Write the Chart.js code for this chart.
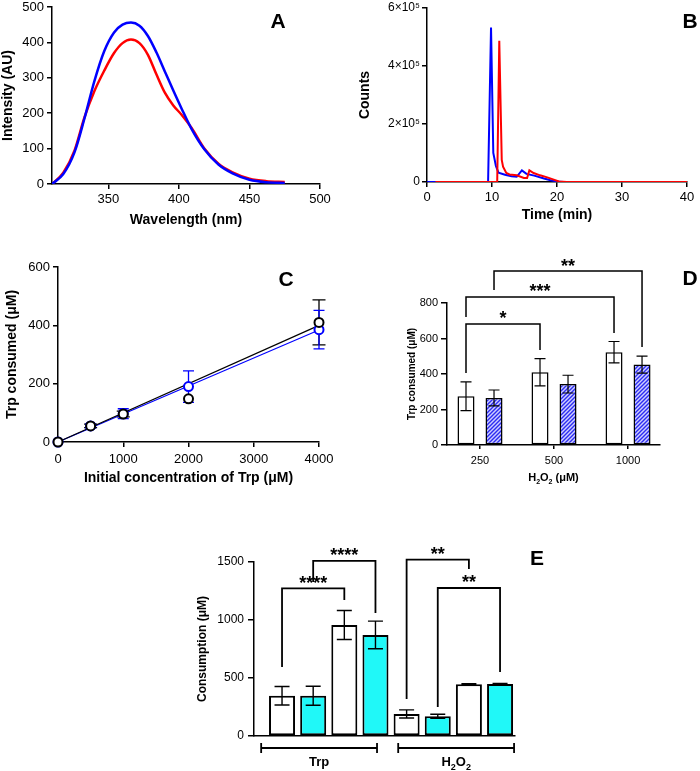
<!DOCTYPE html>
<html><head><meta charset="utf-8">
<script src="https://cdn.jsdelivr.net/npm/chart.js@4.4.1/dist/chart.umd.min.js"></script>
<style>
html,body{margin:0;padding:0;background:#fff;}
#wrap{position:relative;width:700px;height:771px;overflow:hidden;background:#fff;}
#wrap canvas{position:absolute;left:0;top:0;}
</style></head><body>
<div id="wrap">
<canvas id="cA" width="700" height="771"></canvas>
<canvas id="cB" width="700" height="771"></canvas>
<canvas id="cC" width="700" height="771"></canvas>
<canvas id="cD" width="700" height="771"></canvas>
<canvas id="cE" width="700" height="771"></canvas>
</div>
<script>
// ---------------- DATA ----------------
// Panel A: emission spectra
const aWavelength = [310,318,326,333,340,347,354,360,366,372,378,384,390,396,402,409,418,428,438,450,462,475];
const aBlue       = [0,28,90,185,290,375,428,450,456,447,418,372,318,264,212,155,98,55,30,12,5,3];
const aRed        = [0,32,95,188,262,320,370,398,408,398,365,310,258,222,195,158,100,57,33,15,8,6];
const aTicksX     = [350,400,450,500];

// Panel B: chromatograms
const bBlueTime   = [0,9.4,9.85,10.2,10.6,11.0,12.0,13.0,13.8,14.6,15.3,16.5,18.0,19.0,20.0,21.0,40];
const bBlueCounts = [0,0,533000,100000,55000,32000,25000,20000,18000,40000,28000,22000,12000,6000,1500,0,0];
const bRedTime    = [1.3,10.8,11.12,11.5,11.7,12.2,12.7,13.8,14.9,15.4,15.75,16.4,17.4,18.5,19.5,20.3,21.5,40];
const bRedCounts  = [0,0,487000,76000,53000,31000,26000,23000,14000,14000,40000,31000,23000,16000,8000,2000,0,0];

// Panel C: Trp consumed vs initial Trp
const cConc      = [0,500,1000,2000,4000];
const cBlack     = [0,55,96,148,410];
const cBlackErr  = [0,6,10,0,77];
const cBlue      = [0,55,97,190,385];
const cBlueErr   = [0,7,17,54,66];
const cFitConc   = [0,4000];
const cBlackFit  = [0,400];
const cBlueFit   = [0,384];

// Panel D: Trp consumed vs H2O2
const dCategories = ['250','500','1000'];
const dWhite      = [275,410,523];
const dWhiteErr   = [81,77,60];
const dHatched    = [265,343,453];
const dHatchedErr = [45,50,48];
const dBrackets = [
  {from:[0,0], to:[0,1], y:682, yFrom:406, yTo:535, text:'*'},
  {from:[0,0], to:[0,2], y:834, yFrom:721, yTo:631, text:'***'},
  {from:[1,0], to:[1,2], y:980, yFrom:873, yTo:552, text:'**'}
];

// Panel E: consumption
const eValues = [347,347,957,871,190,170,446,449];
const eErr    = [80,82,125,119,35,17,4,5];
const eGroups = ['Trp','H₂O₂'];
const eGroupSpan = [[-0.67,3.05],[3.73,7.45]];
const eBrackets = [
  {from:0, to:2, y:1273, yFrom:595,  yTo:1172, text:'****'},
  {from:1, to:3, y:1509, yFrom:1328, yTo:1060, text:'****'},
  {from:4, to:6, y:1520, yFrom:319,  yTo:1440, text:'**'},
  {from:5, to:7, y:1276, yFrom:250,  yTo:552,  text:'**'}
];

// ---------------- HELPERS ----------------
const FAM = '"Liberation Sans", Arial, Helvetica, sans-serif';
Chart.defaults.font.family = FAM;
Chart.defaults.color = '#000';
Chart.defaults.animation = false;
Chart.defaults.responsive = false;
Chart.defaults.plugins.legend.display = false;
Chart.defaults.plugins.tooltip.enabled = false;
Chart.defaults.layout.autoPadding = false;

function axis(o){
  const ticks = { display: !o.noLabels, font:{size:o.font||13, family:FAM}, color:'#000', padding:(o.pad!=null?o.pad:3), autoSkip:false, maxRotation:0, callback: o.cb || (v => String(v)) };
  if (o.step) ticks.stepSize = o.step;
  const cfg = {
    type:'linear', min:o.min, max:o.max, offset:false, bounds:'data',
    ticks,
    grid:{ display:true, offset:false, drawOnChartArea:false, drawTicks:o.tl!==0, tickLength:(o.tl!=null?o.tl:5), color:'#000', lineWidth:1.5 },
    border:{ display:true, color:'#000', width:1.5 },
    title:{ display:!!o.title, text:o.title||'', color:'#000', font:{size:o.tf||14, weight:'bold', family:FAM}, padding:{top:o.tp||0,bottom:0} },
    afterFit:(s)=>{ if(o.w!=null) s.width=o.w; if(o.h!=null) s.height=o.h; s.paddingLeft=0; s.paddingRight=0; s.paddingTop=0; s.paddingBottom=0; }
  };
  if (o.ticks) cfg.afterBuildTicks = (s)=>{ s.ticks = o.ticks.map(v=>({value:v})); };
  return cfg;
}
function pts(xs, ys){ return xs.map((x,i)=>({x, y:ys[i]})); }

function parseSub(str){
  const parts=[]; const subs='₀₁₂₃₄₅₆₇₈₉';
  for (const ch of str){
    const k = subs.indexOf(ch);
    const sub = k>=0; const c = sub ? String(k) : ch;
    if (parts.length && parts[parts.length-1][1]===sub) parts[parts.length-1][0]+=c; else parts.push([c,sub]);
  }
  return parts;
}
function richText(ctx, str, cx, cy, size){
  const parts = parseSub(str);
  ctx.save(); ctx.fillStyle='#000'; ctx.textBaseline='alphabetic'; ctx.textAlign='left';
  const big='bold '+size+'px '+FAM, small='bold '+Math.round(size*0.68)+'px '+FAM;
  let w=0; for (const [t,s] of parts){ ctx.font=s?small:big; w+=ctx.measureText(t).width; }
  let x=cx-w/2; const base=cy+size*0.36;
  for (const [t,s] of parts){ ctx.font=s?small:big; ctx.fillText(t,x,base+(s?size*0.3:0)); x+=ctx.measureText(t).width; }
  ctx.restore();
}
function letter(text,x,y){
  return { id:'letter', afterDraw(chart){ const c=chart.ctx; c.save(); c.fillStyle='#000'; c.font='bold 21px '+FAM; c.textAlign='center'; c.textBaseline='alphabetic'; c.fillText(text,x,y+21*0.716/2); c.restore(); } };
}
function drawErrors(chart){
  const c=chart.ctx; const ys=chart.scales.y;
  chart.data.datasets.forEach((ds,di)=>{
    if(!ds.errorBars) return;
    const meta=chart.getDatasetMeta(di);
    c.save(); c.strokeStyle=ds.errColor||'#000'; c.lineWidth=ds.errWidth||1.3;
    meta.data.forEach((el,i)=>{
      const e=ds.errorBars[i]; if(!e) return;
      const v=meta.controller.getParsed(i).y;
      const x=el.x, t=ys.getPixelForValue(v+e), b=ys.getPixelForValue(v-e), h=(ds.errCap||12)/2;
      c.beginPath(); c.moveTo(x,t); c.lineTo(x,b);
      c.moveTo(x-h,t); c.lineTo(x+h,t); c.moveTo(x-h,b); c.lineTo(x+h,b); c.stroke();
    });
    c.restore();
  });
}
function bracket(c, x1, x2, yH, y1, y2, text, fs){
  c.beginPath(); c.moveTo(x1,y1); c.lineTo(x1,yH); c.lineTo(x2,yH); c.lineTo(x2,y2); c.stroke();
  c.font='bold '+fs+'px '+FAM; c.textAlign='center'; c.textBaseline='alphabetic';
  c.fillText(text,(x1+x2)/2,yH+0.5);
}
function makeHatch(){
  const cv=document.createElement('canvas'); cv.width=4; cv.height=4;
  const x=cv.getContext('2d'); x.fillStyle='#cfcfff'; x.fillRect(0,0,4,4);
  x.strokeStyle='#2c2cf2'; x.lineWidth=1.4; x.beginPath();
  x.moveTo(-1,5); x.lineTo(5,-1); x.moveTo(-1,1); x.lineTo(1,-1); x.moveTo(3,5); x.lineTo(5,3); x.stroke();
  return x.createPattern(cv,'repeat');
}

// ---------------- PANEL A ----------------
new Chart(document.getElementById('cA'), {
  type:'line',
  data:{ datasets:[
    {data:pts(aWavelength,aBlue), borderColor:'#0000ff', borderWidth:2.5, pointRadius:0, cubicInterpolationMode:'monotone', fill:false},
    {data:pts(aWavelength,aRed),  borderColor:'#ff0000', borderWidth:2.5, pointRadius:0, cubicInterpolationMode:'monotone', fill:false}
  ]},
  options:{
    layout:{padding:{left:0, top:7, right:380, bottom:771-184-45}},
    scales:{
      x: axis({min:310, max:500, ticks:aTicksX, font:13, title:'Wavelength (nm)', tf:14, h:45, pad:3}),
      y: axis({min:0, max:500, step:100, font:13, title:'Intensity (AU)', tf:14, tp:0, w:52, pad:3})
    }
  },
  plugins:[letter('A',278,20)]
});

// ---------------- PANEL B ----------------
new Chart(document.getElementById('cB'), {
  type:'line',
  data:{ datasets:[
    {data:pts(bRedTime,bRedCounts),   borderColor:'#ff0000', borderWidth:2, pointRadius:0, tension:0, fill:false},
    {data:pts(bBlueTime,bBlueCounts), borderColor:'#0000ff', borderWidth:2, pointRadius:0, tension:0, fill:false}
  ]},
  options:{
    layout:{padding:{left:350, top:8, right:13, bottom:771-182-41.4}},
    scales:{
      x: axis({min:0, max:40, step:10, font:13, title:'Time (min)', tf:14, h:41.4, pad:3}),
      y: axis({min:0, max:600000, step:200000, font:12, title:'Counts', tf:14, tp:6.6, w:77, tl:5, pad:2,
               cb:(v)=> v===0 ? '0' : (v/100000)+'×10⁵'})
    }
  },
  plugins:[letter('B',690,20)]
});

// ---------------- PANEL C ----------------
new Chart(document.getElementById('cC'), {
  type:'line',
  data:{ datasets:[
    {data:pts(cConc,cBlack), showLine:false, pointRadius:4.5, pointBorderWidth:2, pointBorderColor:'#000', pointBackgroundColor:'#fff', errorBars:cBlackErr, errColor:'#000', errCap:13, clip:false},
    {data:pts(cConc,cBlue),  showLine:false, pointRadius:4.5, pointBorderWidth:2, pointBorderColor:'#0000ff', pointBackgroundColor:'#fff', errorBars:cBlueErr, errColor:'#0000ff', errCap:11, clip:false},
    {data:pts(cFitConc,cBlackFit), borderColor:'#000', borderWidth:1.2, pointRadius:0, clip:false},
    {data:pts(cFitConc,cBlueFit),  borderColor:'#0000ff', borderWidth:1.2, pointRadius:0, clip:false}
  ]},
  options:{
    layout:{padding:{left:0, top:267, right:381, bottom:771-442-44.4}},
    scales:{
      x: axis({min:0, max:4000, step:1000, font:13, title:'Initial concentration of Trp (μM)', tf:14, h:44.4, pad:5}),
      y: axis({min:0, max:600, step:200, font:13, title:'Trp consumed (μM)', tf:14, tp:3.6, w:58, pad:3})
    }
  },
  plugins:[{id:'errC', beforeDatasetsDraw(chart){ drawErrors(chart); }}, letter('C',286,278)]
});

// ---------------- PANEL D ----------------
const hatch = makeHatch();
new Chart(document.getElementById('cD'), {
  type:'bar',
  data:{ datasets:[
    {data:pts([0,1,2],dWhite),   backgroundColor:'#ffffff', borderColor:'#000', borderWidth:1.5, borderSkipped:false,
     categoryPercentage:0.757, barPercentage:0.607, errorBars:dWhiteErr, errCap:11, errWidth:1.2},
    {data:pts([0,1,2],dHatched), backgroundColor:hatch, borderColor:'#000', borderWidth:1.5, borderSkipped:false,
     categoryPercentage:0.757, barPercentage:0.607, errorBars:dHatchedErr, errCap:11, errWidth:1.2}
  ]},
  options:{
    layout:{padding:{left:400, top:303, right:40, bottom:771-445-40}},
    scales:{
      x: axis({min:-0.446, max:2.432, ticks:[0,1,2], font:11, h:40, tl:4, pad:5, cb:(v)=>dCategories[v]!==undefined?dCategories[v]:''}),
      y: axis({min:0, max:800, step:200, font:11, title:'Trp consumed (μM)', tf:10, tp:6, w:47, tl:6, pad:3})
    }
  },
  plugins:[{id:'dExtra', afterDraw(chart){
    drawErrors(chart);
    const c=chart.ctx, ys=chart.scales.y;
    c.save(); c.strokeStyle='#000'; c.fillStyle='#000'; c.lineWidth=1.5;
    dBrackets.forEach(b=>{
      const x1=chart.getDatasetMeta(b.from[0]).data[b.from[1]].x;
      const x2=chart.getDatasetMeta(b.to[0]).data[b.to[1]].x;
      bracket(c,x1,x2,ys.getPixelForValue(b.y),ys.getPixelForValue(b.yFrom),ys.getPixelForValue(b.yTo),b.text,18);
    });
    c.restore();
    richText(c,'H₂O₂ (μM)',(chart.chartArea.left+chart.chartArea.right)/2, chart.chartArea.bottom+32, 11);
  }}, letter('D',690,277)]
});

// ---------------- PANEL E ----------------
new Chart(document.getElementById('cE'), {
  type:'bar',
  data:{ datasets:[
    {data:eValues.map((v,i)=>({x:i,y:v})),
     backgroundColor:eValues.map((v,i)=> i%2===0 ? '#ffffff' : '#20f8f8'),
     borderColor:'#000', borderWidth:2, borderSkipped:false,
     categoryPercentage:1, barPercentage:0.835, errorBars:eErr, errCap:15, errWidth:1.4}
  ]},
  options:{
    layout:{padding:{left:190, top:562, right:185, bottom:771-736-35}},
    scales:{
      x: axis({min:-0.9, max:7.48, ticks:[], noLabels:true, tl:0, h:35}),
      y: axis({min:0, max:1500, step:500, font:12, title:'Consumption (μM)', tf:12, tp:5.8, w:64, tl:6, pad:4})
    }
  },
  plugins:[{id:'eExtra', afterDraw(chart){
    drawErrors(chart);
    const c=chart.ctx, ys=chart.scales.y, xs=chart.scales.x, meta=chart.getDatasetMeta(0);
    c.save(); c.strokeStyle='#000'; c.fillStyle='#000'; c.lineWidth=1.8;
    eBrackets.forEach(b=>{
      bracket(c, meta.data[b.from].x, meta.data[b.to].x, ys.getPixelForValue(b.y), ys.getPixelForValue(b.yFrom), ys.getPixelForValue(b.yTo), b.text, 18);
    });
    const gy = chart.chartArea.bottom + 12;
    eGroups.forEach((g,i)=>{
      const x1=xs.getPixelForValue(eGroupSpan[i][0]), x2=xs.getPixelForValue(eGroupSpan[i][1]);
      c.beginPath(); c.moveTo(x1,gy); c.lineTo(x2,gy);
      c.moveTo(x1,gy-5); c.lineTo(x1,gy+5); c.moveTo(x2,gy-5); c.lineTo(x2,gy+5); c.stroke();
      richText(c, g, (x1+x2)/2, gy+13.5, 13);
    });
    c.restore();
  }}, letter('E',537,557)]
});
</script>
</body></html>
